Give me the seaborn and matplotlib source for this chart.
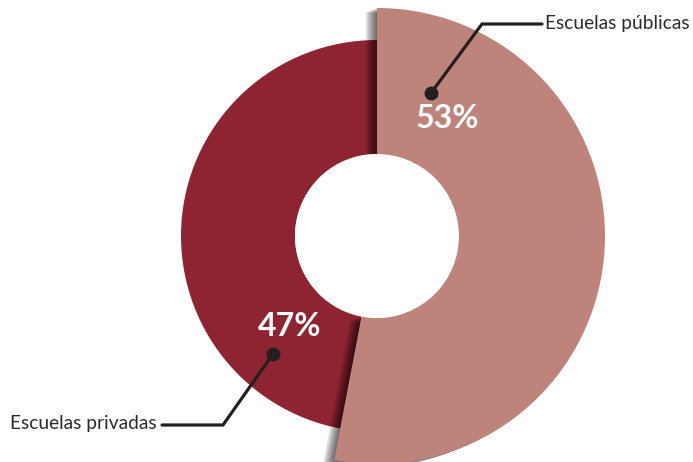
import matplotlib
matplotlib.use("Agg")
import matplotlib.pyplot as plt
from matplotlib.patches import Wedge, Circle
import seaborn as sns

# data
labels = ["Escuelas públicas", "Escuelas privadas"]
shares = [53, 47]
pct_labels = ["53%", "47%"]
colors = ["#be847c", "#8e2332"]

W, H = 693, 462
sns.set_theme(style="white")
plt.rcParams["font.family"] = ["Lato", "DejaVu Sans"]

fig = plt.figure(figsize=(W / 100, H / 100), dpi=100)
ax = fig.add_axes([0, 0, 1, 1])

cx, cy = 377, H - 236
hole = 82
outer = [228, 196]

wedges, _ = ax.pie(shares, colors=colors, startangle=90, counterclock=False,
                   center=(cx, cy), radius=outer[0])
for w, r in zip(wedges, outer):
    w.set_radius(r)
    w.set_width(r - hole)
    w.set_linewidth(0)

# soft shadow under the bigger slice
wedges[1].set_zorder(1)
big = wedges[0]
big.set_zorder(3)
for k in range(1, 14):
    sh = Wedge((cx - k * 0.9, cy - k * 0.35), big.r, big.theta1, big.theta2,
               width=big.r - hole, facecolor="black", alpha=0.06,
               linewidth=0, zorder=2)
    ax.add_patch(sh)
ax.add_patch(Circle((cx, cy), hole, facecolor="white", linewidth=0, zorder=4))

# percentages
ax.text(447, H - 118, pct_labels[0], color="white", fontsize=23, fontweight="bold",
        ha="center", va="center", zorder=6)
ax.text(290, H - 327, pct_labels[1], color="white", fontsize=23, fontweight="bold",
        ha="center", va="center", zorder=6)

# callouts
line_c = "#231f20"
text_c = "#2b2b2b"
ax.plot([431, 482, 542], [H - 93, H - 24, H - 24], color=line_c, lw=2.3, zorder=7,
        solid_joinstyle="miter")
ax.plot([431], [H - 93], "o", color=line_c, ms=9, zorder=8)
ax.text(545, H - 24, labels[0], color=text_c, fontsize=13.8, ha="left", va="center")

ax.plot([273, 223, 162], [H - 354, H - 425, H - 425], color=line_c, lw=2.3, zorder=7,
        solid_joinstyle="miter")
ax.plot([273], [H - 354], "o", color=line_c, ms=9, zorder=8)
ax.text(157, H - 424, labels[1], color=text_c, fontsize=13.8, ha="right", va="center")

ax.set_xlim(0, W)
ax.set_ylim(0, H)
ax.set_aspect("equal")
ax.axis("off")
fig.savefig("out.png", dpi=100, facecolor="white")
